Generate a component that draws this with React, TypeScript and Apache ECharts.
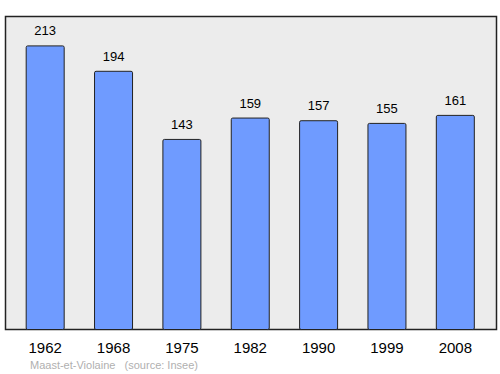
import React, { useEffect, useRef } from "react";
import * as echarts from "echarts";

const years = ["1962", "1968", "1975", "1982", "1990", "1999", "2008"];
const population = [213, 194, 143, 159, 157, 155, 161];
const footer = "Maast-et-Violaine   (source: Insee)";

export default function App() {
  const ref = useRef<HTMLDivElement>(null);
  useEffect(() => {
    const chart = echarts.init(ref.current!, null, { renderer: "svg" });
    chart.setOption({
      animation: false,
      textStyle: { fontFamily: "Liberation Sans, Arial, sans-serif" },
      grid: { left: 11, right: 10.5, top: 16, bottom: 44 },
      graphic: [
        {
          type: "rect",
          z: -10,
          shape: { x: 5.5, y: 16.5, width: 491, height: 313 },
          style: { fill: "#ececec", stroke: "#222", lineWidth: 1.5 },
        },
        {
          type: "text",
          x: 30,
          y: 359,
          style: {
            text: footer,
            fill: "#b0b0b0",
            fontSize: 11,
            fontFamily: "Liberation Sans, Arial, sans-serif",
          },
        },
      ],
      xAxis: {
        type: "category",
        data: years,
        axisLine: { show: false },
        axisTick: { show: false },
        axisLabel: { color: "#000", fontSize: 15, margin: 10 },
      },
      yAxis: { type: "value", min: 0, max: 235, show: false, splitLine: { show: false } },
      series: [
        {
          type: "bar",
          data: population,
          barWidth: 39,
          itemStyle: { color: "#6f9bff", borderColor: "#222", borderWidth: 1, borderRadius: 1.5 },
          label: { show: true, position: "top", distance: 8, color: "#000", fontSize: 13 },
        },
      ],
    });
    return () => chart.dispose();
  }, []);
  return (
    <div
      ref={ref}
      style={{ position: "absolute", left: 0, top: 0, width: 500, height: 374 }}
    />
  );
}
